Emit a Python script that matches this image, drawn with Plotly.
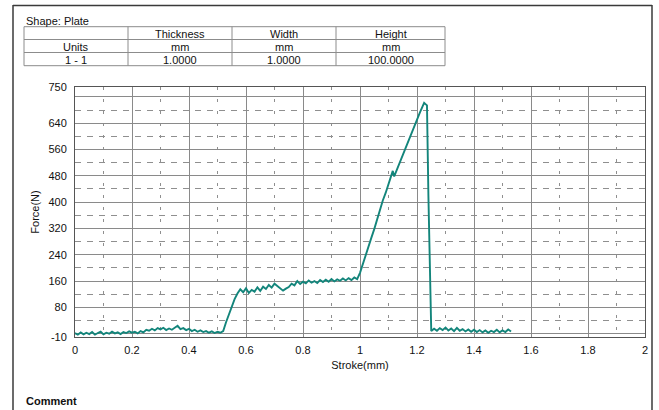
import plotly.graph_objects as go

# ---------------- data ----------------
stroke_mm = [
    0.00, 0.01, 0.02, 0.03, 0.04, 0.05, 0.06, 0.07, 0.08, 0.09,
    0.10, 0.11, 0.12, 0.13, 0.14, 0.15, 0.16, 0.17, 0.18, 0.19,
    0.20, 0.21, 0.22, 0.23, 0.24, 0.25, 0.26, 0.27, 0.28, 0.29,
    0.30, 0.31, 0.32, 0.33, 0.34, 0.35, 0.36, 0.37, 0.38, 0.39,
    0.40, 0.41, 0.42, 0.43, 0.44, 0.45, 0.46, 0.47, 0.48, 0.49,
    0.50, 0.51, 0.52, 0.53, 0.54, 0.55, 0.56, 0.57, 0.58, 0.59,
    0.60, 0.61, 0.62, 0.63, 0.64, 0.65, 0.66, 0.67, 0.68, 0.69,
    0.70, 0.71, 0.72, 0.73, 0.74, 0.75, 0.76, 0.77, 0.78, 0.79,
    0.80, 0.81, 0.82, 0.83, 0.84, 0.85, 0.86, 0.87, 0.88, 0.89,
    0.90, 0.91, 0.92, 0.93, 0.94, 0.95, 0.96, 0.97, 0.98, 0.99,
    1.00, 1.01, 1.02, 1.03, 1.04, 1.05, 1.06, 1.07, 1.08, 1.09,
    1.10, 1.11, 1.115, 1.12, 1.13, 1.14, 1.15, 1.16, 1.17, 1.18,
    1.19, 1.20, 1.21, 1.22, 1.225, 1.23, 1.235, 1.24, 1.245, 1.25,
    1.26, 1.27, 1.28, 1.29, 1.30, 1.31, 1.32, 1.33, 1.34, 1.35,
    1.36, 1.37, 1.38, 1.39, 1.40, 1.41, 1.42, 1.43, 1.44, 1.45,
    1.46, 1.47, 1.48, 1.49, 1.50, 1.51, 1.52, 1.53,
]
force_n = [
    2, -3, 4, -2, 3, -1, 5, -3, 2, 6,
    -2, 3, 0, 6, 1, 4, -1, 5, 2, 7,
    3, 6, 1, 8, 4, 12, 9, 15, 10, 17,
    13, 18, 11, 16, 12, 19, 24, 14, 17, 11,
    15, 8, 12, 6, 10, 5, 8, 3, 7, 2,
    6, 3, 8, 35, 60, 80, 105, 122, 135, 126,
    138, 124, 133, 128, 141, 130, 143, 136, 148, 140,
    152, 145, 138, 131, 137, 142, 152, 147, 160, 151,
    158, 153, 162, 155, 160, 154, 163, 157, 164, 158,
    166, 159, 165, 161, 168, 162, 169, 163, 171, 166,
    185, 210, 238, 262, 292, 318, 348, 378, 405, 428,
    455, 482, 495, 478, 500, 520, 545, 568, 588, 612,
    632, 652, 672, 692, 702, 698, 694, 420, 240, 8,
    15, 9, 17, 11, 19, 10, 16, 8, 18, 9,
    14, 7, 13, 6, 12, 5, 11, 4, 10, 3,
    9, 5, 12, 4, 10, 5, 13, 7,
]

x_ticks = [0, 0.2, 0.4, 0.6, 0.8, 1.0, 1.2, 1.4, 1.6, 1.8, 2.0]
x_tick_text = ["0", "0.2", "0.4", "0.6", "0.8", "1", "1.2", "1.4", "1.6", "1.8", "2"]
x_minor = [0.1, 0.3, 0.5, 0.7, 0.9, 1.1, 1.3, 1.5, 1.7, 1.9]
y_ticks = [-10, 0, 80, 160, 240, 320, 400, 480, 560, 640, 720, 750]
y_tick_text = ["-10", "", "80", "160", "240", "320", "400", "480", "560", "640", "", "750"]
y_minor = [40, 120, 200, 280, 360, 440, 520, 600, 680]

table_cols = ["", "Thickness", "Width", "Height"]
table_units = ["Units", "mm", "mm", "mm"]
table_vals = ["1 - 1", "1.0000", "1.0000", "100.0000"]

# ---------------- layout helpers (pixels -> paper) ----------------
W, H = 659, 410
L, R, T, B = 75, 645, 87, 337


def px(x):
    return (x - L) / (R - L)


def py(y):
    return (B - y) / (B - T)


FONT = "Liberation Sans, Arial, sans-serif"
LINE = "#13857b"

fig = go.Figure()
fig.add_trace(go.Scatter(
    x=stroke_mm, y=force_n, mode="lines",
    line=dict(color=LINE, width=1.9), showlegend=False, hoverinfo="x+y",
))

shapes = []
annotations = []

# page frame
frame_col = "#3a3a3a"
shapes.append(dict(type="line", xref="paper", yref="paper", x0=px(13), x1=px(652), y0=py(5.5), y1=py(5.5),
                   line=dict(color=frame_col, width=1.6)))
shapes.append(dict(type="line", xref="paper", yref="paper", x0=px(13), x1=px(13), y0=py(5), y1=py(412),
                   line=dict(color=frame_col, width=1.5)))
shapes.append(dict(type="line", xref="paper", yref="paper", x0=px(652), x1=px(652), y0=py(5), y1=py(412),
                   line=dict(color=frame_col, width=1.5)))

# table
col_x = [24, 128, 232, 336, 445]
row_y = [26.7, 39.5, 52.5, 65.7]
tcol = "#8c8c8c"
for yv in row_y:
    shapes.append(dict(type="line", xref="paper", yref="paper", x0=px(col_x[0]), x1=px(col_x[-1]),
                       y0=py(yv), y1=py(yv), line=dict(color=tcol, width=1)))
for xv in col_x:
    shapes.append(dict(type="line", xref="paper", yref="paper", x0=px(xv), x1=px(xv),
                       y0=py(row_y[0]), y1=py(row_y[-1]), line=dict(color=tcol, width=1)))
for r, row in enumerate([table_cols, table_units, table_vals]):
    yc = (row_y[r] + row_y[r + 1]) / 2
    for c, txt in enumerate(row):
        if not txt:
            continue
        annotations.append(dict(text=txt, xref="paper", yref="paper",
                                x=px((col_x[c] + col_x[c + 1]) / 2), y=py(yc + 0.5),
                                xanchor="center", yanchor="middle", showarrow=False,
                                font=dict(family=FONT, size=11, color="#111")))

annotations.append(dict(text="Shape: Plate", xref="paper", yref="paper", x=px(24), y=py(20.5),
                        xanchor="left", yanchor="middle", showarrow=False,
                        font=dict(family=FONT, size=11, color="#111")))
annotations.append(dict(text="<b>Comment</b>", xref="paper", yref="paper", x=px(24), y=py(401),
                        xanchor="left", yanchor="middle", showarrow=False,
                        font=dict(family=FONT, size=11, color="#111")))

grid_major = "#8a8a8a"
grid_minor = "#8f8f8f"

fig.update_layout(
    width=W, height=H,
    margin=dict(l=L, r=W - R, t=T, b=H - B, pad=0),
    paper_bgcolor="white", plot_bgcolor="white",
    font=dict(family=FONT, size=11, color="#111"),
    shapes=shapes, annotations=annotations,
    xaxis=dict(
        range=[0, 2], tickmode="array", tickvals=x_ticks, ticktext=x_tick_text,
        showgrid=True, gridcolor=grid_major, gridwidth=1,
        showline=True, linecolor="#555", linewidth=1, mirror=True,
        ticks="", ticklabelstandoff=3, zeroline=False,
        tickfont=dict(family=FONT, size=11, color="#111"),
        title=dict(text="Stroke(mm)", font=dict(family=FONT, size=11, color="#111"), standoff=6),
        minor=dict(tickmode="array", tickvals=x_minor, showgrid=True, gridcolor=grid_minor,
                   griddash="3px,9px", gridwidth=1),
    ),
    yaxis=dict(
        range=[-10, 750], tickmode="array", tickvals=y_ticks, ticktext=y_tick_text,
        showgrid=True, gridcolor=grid_major, gridwidth=1,
        showline=True, linecolor="#555", linewidth=1, mirror=True,
        ticks="", ticklabelstandoff=5, zeroline=False,
        tickfont=dict(family=FONT, size=11, color="#111"),
        title=dict(text="Force(N)", font=dict(family=FONT, size=11, color="#111"), standoff=6),
        minor=dict(tickmode="array", tickvals=y_minor, showgrid=True, gridcolor=grid_minor,
                   griddash="6px,6px", gridwidth=1),
    ),
)

fig.write_html("out.html", config={"displayModeBar": False})

# remove the browser's default page margin so the figure sits at the window's top-left
with open("out.html", "r", encoding="utf-8") as f:
    html = f.read()
html = html.replace("<head>", "<head><style>html,body{margin:0;padding:0;overflow:hidden;}</style>", 1)
with open("out.html", "w", encoding="utf-8") as f:
    f.write(html)
